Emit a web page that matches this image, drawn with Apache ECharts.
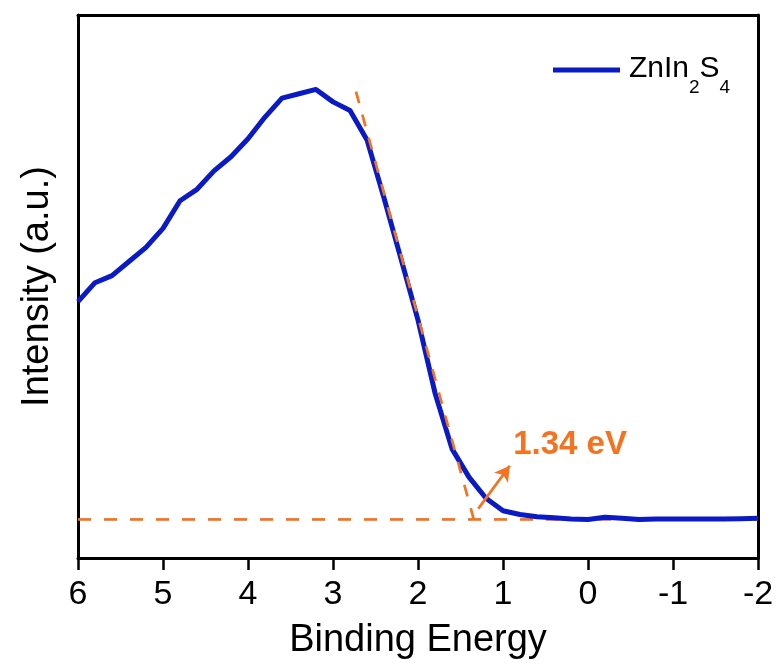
<!DOCTYPE html>
<html>
<head>
<meta charset="utf-8">
<script src="https://cdn.jsdelivr.net/npm/echarts@6/dist/echarts.min.js"></script>
<style>html,body{margin:0;padding:0;background:#fff}#c{width:779px;height:666px}</style>
</head>
<body>
<div id="c"></div>
<script>
// Binding energy (eV) and intensity (a.u.)
const energies = [6.0,5.8,5.6,5.4,5.2,5.0,4.8,4.6,4.4,4.2,4.0,3.8,3.6,3.4,3.2,3.0,2.8,2.6,2.4,2.2,2.0,1.8,1.6,1.4,1.2,1.0,0.8,0.6,0.4,0.2,0.0,-0.2,-0.4,-0.6,-0.8,-1.0,-1.2,-1.4,-1.6,-1.8,-2.0];
const intensity = [47.2,50.7,52.0,54.6,57.2,60.7,65.8,67.9,71.3,73.9,77.2,81.2,84.7,85.5,86.3,84.0,82.4,77.0,66.3,55.1,43.8,30.4,20.1,14.9,11.0,8.7,8.0,7.6,7.4,7.2,7.1,7.5,7.3,7.1,7.2,7.2,7.2,7.2,7.2,7.25,7.3];
// Tangent (linear extrapolation) and baseline
const tangentX = [2.73, 1.31];
const tangentY = [85.9, 5.2];
const baselineX = [6, -2];
const baselineY = [7.1, 7.1];
// Annotation
const arrowFrom = [1.29, 9.1];
const arrowTo = [0.92, 17.0];
const bandGapLabel = '1.34 eV';
const bandGapLabelPos = [0.88, 20.8];
const xTicks = [6,5,4,3,2,1,0,-1,-2];

const ORANGE = '#F37321';
const BLUE = '#0A1AC4';
const FONT = 'Liberation Sans, Arial, sans-serif';

const chart = echarts.init(document.getElementById('c'), null, {renderer:'canvas'});
chart.setOption({
  animation: false,
  backgroundColor: '#fff',
  grid: {left: 78, right: 21, top: 15, bottom: 108, containLabel: false},
  legend: {
    left: 548, top: 49,
    itemWidth: 67, itemHeight: 14,
    icon: 'path://M0,0 L67,0 L67,5 L0,5 Z',
    data: [{name: 'ZnIn2S4', itemStyle: {color: BLUE}}],
    formatter: () => '{n|ZnIn}{s|2}{n|S}{s|4}',
    textStyle: {
      padding: [0,0,0,4],
      rich: {
        n: {fontSize: 30, fontFamily: FONT, color: '#000', lineHeight: 32, verticalAlign: 'top'},
        s: {fontSize: 19, fontFamily: FONT, color: '#000', lineHeight: 19, verticalAlign: 'top', padding: [24,0,0,0]}
      }
    }
  },
  xAxis: [{
    type: 'value', inverse: true, min: -2, max: 6, interval: 1,
    name: 'Binding Energy', nameLocation: 'middle', nameGap: 64,
    nameTextStyle: {fontSize: 38, fontFamily: FONT, color: '#000'},
    axisLine: {show: true, onZero: false, lineStyle: {color: '#000', width: 3}},
    axisTick: {show: true, inside: false, length: 12, lineStyle: {color: '#000', width: 2.5}},
    axisLabel: {fontSize: 34, fontFamily: FONT, color: '#000', margin: 20,
      formatter: v => xTicks.includes(v) ? String(v) : ''},
    splitLine: {show: false}
  }, {
    type: 'value', inverse: true, min: -2, max: 6, position: 'top',
    axisLine: {show: true, onZero: false, lineStyle: {color: '#000', width: 3}},
    axisTick: {show: false}, axisLabel: {show: false}, splitLine: {show: false}
  }],
  yAxis: [{
    type: 'value', min: 0, max: 100,
    name: 'Intensity (a.u.)', nameLocation: 'middle', nameGap: 21,
    nameTextStyle: {fontSize: 38, fontFamily: FONT, color: '#000'},
    axisLine: {show: true, onZero: false, lineStyle: {color: '#000', width: 3}},
    axisTick: {show: false}, axisLabel: {show: false}, splitLine: {show: false}
  }, {
    type: 'value', min: 0, max: 100, position: 'right',
    axisLine: {show: true, onZero: false, lineStyle: {color: '#000', width: 3}},
    axisTick: {show: false}, axisLabel: {show: false}, splitLine: {show: false}
  }],
  series: [
    {
      name: 'baseline', type: 'line', silent: true, showSymbol: false, symbol: 'none',
      data: baselineX.map((x,i) => [x, baselineY[i]]),
      lineStyle: {color: ORANGE, width: 2.7, type: [13,13]}, z: 1
    },
    {
      name: 'ZnIn2S4', type: 'line', showSymbol: false, symbol: 'none',
      data: energies.map((e,i) => [e, intensity[i]]),
      lineStyle: {color: BLUE, width: 5, join: 'round'}, itemStyle: {color: BLUE}, z: 2
    },
    {
      name: 'tangent', type: 'line', silent: true, showSymbol: false, symbol: 'none',
      data: tangentX.map((x,i) => [x, tangentY[i]]),
      lineStyle: {color: ORANGE, width: 2.7, type: [12,12]}, z: 3,
      markLine: {
        silent: true, symbol: ['none','arrow'], symbolSize: [13, 15],
        lineStyle: {color: ORANGE, width: 2.7, type: 'solid'},
        label: {show: false},
        data: [[{coord: arrowFrom}, {coord: arrowTo}]]
      },
      markPoint: {
        silent: true, symbol: 'circle', symbolSize: 0,
        data: [{coord: bandGapLabelPos, value: bandGapLabel}],
        label: {show: true, position: 'right', distance: 0, formatter: bandGapLabel,
          fontSize: 33, fontWeight: 'bold', fontFamily: FONT, color: ORANGE}
      }
    }
  ]
});
</script>
</body>
</html>
